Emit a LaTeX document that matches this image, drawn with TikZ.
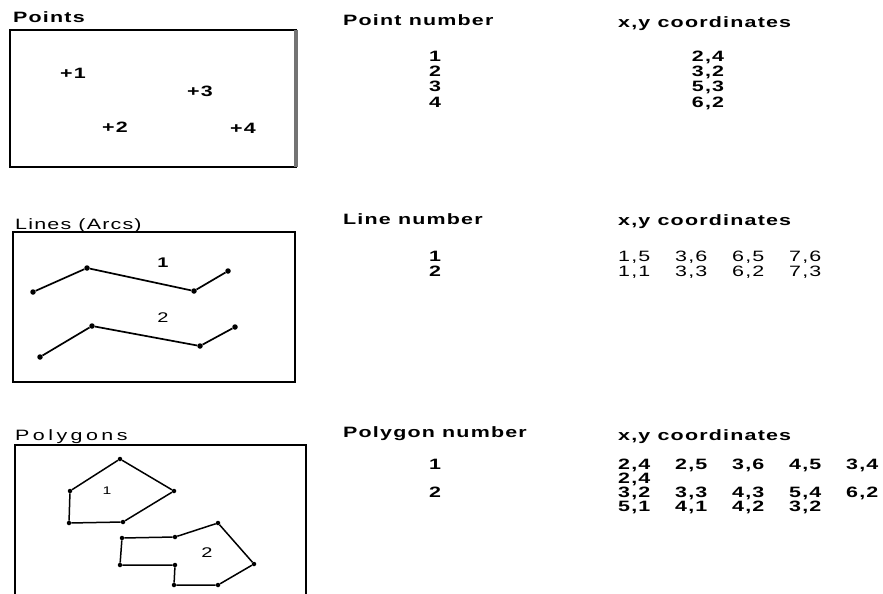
\documentclass[tikz,border=0pt]{standalone}
\usepackage{fontspec}
\setmainfont{Liberation Sans}
\newfontfamily\widef[FakeStretch=1.43,LetterSpace=8]{Liberation Sans}
\newfontfamily\widerf[FakeStretch=1.43,LetterSpace=23]{Liberation Sans}
\begin{document}
\begin{tikzpicture}[x=1pt,y=-1pt,
  lab/.style={anchor=base west, inner sep=0pt, font=\widef\fontsize{15}{15}\selectfont},
  hdr/.style={anchor=base west, inner sep=0pt, font=\widef\bfseries\fontsize{15}{15}\selectfont},
  num/.style={anchor=base, inner sep=0pt, font=\widef\bfseries\fontsize{15}{15}\selectfont},
  crd/.style={anchor=base west, inner sep=0pt, font=\widef\bfseries\fontsize{15}{15}\selectfont},
  crdl/.style={anchor=base west, inner sep=0pt, font=\widef\fontsize{15}{15}\selectfont},
  pt/.style={anchor=west, inner sep=0pt, font=\widef\bfseries\fontsize{15}{15}\selectfont},
  frame/.style={draw, line width=1.8pt},
  vtx/.style={circle, fill, inner sep=0pt, minimum size=5.5pt},
  pvx/.style={circle, fill, inner sep=0pt, minimum size=4.5pt},
  edge/.style={line width=1.7pt},
  pedge/.style={line width=1.5pt},
  tag/.style={inner sep=0pt, font=\widef\fontsize{14}{14}\selectfont}]
\useasboundingbox[fill=white] (0,0) rectangle (883,594);

% ---------- Row 1: Points ----------
\node[lab, font=\widef\bfseries\fontsize{15}{15}\selectfont] (tPoints) at (13,23) {Points};
\draw[frame] (10,30) rectangle (296,167);
\draw[line width=3.5pt, black!55] (296,30) -- (296,167);
\node[pt] (p1) at (60,73) {+1};
\node[pt] (p3) at (187,91) {+3};
\node[pt] (p2) at (102,127) {+2};
\node[pt] (p4) at (230,128) {+4};

\node[hdr] (hPt) at (343,26) {Point number};
\node[hdr] (hXY1) at (618,28) {x,y coordinates};
\node[num] (n11) at (435,62) {1};
\node[num] (n12) at (435,77) {2};
\node[num] (n13) at (435,92) {3};
\node[num] (n14) at (435,107) {4};
\node[num] (c11) at (708,62) {2,4};
\node[num] (c12) at (708,77) {3,2};
\node[num] (c13) at (708,92) {5,3};
\node[num] (c14) at (708,107) {6,2};

% ---------- Row 2: Lines ----------
\node[lab] (tLines) at (15,229) {Lines (Arcs)};
\draw[frame] (13,232) rectangle (295,382);
\node[vtx] (a1) at (33,292) {};
\node[vtx] (a2) at (87,268) {};
\node[vtx] (a3) at (194,291) {};
\node[vtx] (a4) at (228,271) {};
\draw[edge] (a1) -- (a2) -- (a3) -- (a4);
\node[tag, font=\widef\bfseries\fontsize{14}{14}\selectfont] (la) at (163,263) {1};
\node[vtx] (b1) at (40,357) {};
\node[vtx] (b2) at (92,326) {};
\node[vtx] (b3) at (200,346) {};
\node[vtx] (b4) at (235,327) {};
\draw[edge] (b1) -- (b2) -- (b3) -- (b4);
\node[tag] (lb) at (163,318) {2};

\node[hdr] (hLn) at (343,224) {Line number};
\node[hdr] (hXY2) at (618,225) {x,y coordinates};
\node[num] (n21) at (435,261) {1};
\node[num] (n22) at (435,276) {2};
\node[crdl] (d11) at (618,261) {1,5};
\node[crdl] (d12) at (675,261) {3,6};
\node[crdl] (d13) at (732,261) {6,5};
\node[crdl] (d14) at (789,261) {7,6};
\node[crdl] (d21) at (618,276) {1,1};
\node[crdl] (d22) at (675,276) {3,3};
\node[crdl] (d23) at (732,276) {6,2};
\node[crdl] (d24) at (789,276) {7,3};

% ---------- Row 3: Polygons ----------
\node[lab, font=\widerf\fontsize{15}{15}\selectfont] (tPoly) at (15,440) {Polygons};
\draw[frame] (15,600) -- (15,445) -- (306,445) -- (306,600);
\node[pvx] (q1) at (69,523) {};
\node[pvx] (q2) at (70,491) {};
\node[pvx] (q3) at (120,459) {};
\node[pvx] (q4) at (174,491) {};
\node[pvx] (q5) at (123,522) {};
\draw[pedge] (q1) -- (q2) -- (q3) -- (q4) -- (q5) -- (q1);
\node[tag, font=\widef\fontsize{11}{11}\selectfont] (lq) at (107,491) {1};
\node[pvx] (r1) at (120,565) {};
\node[pvx] (r2) at (122,538) {};
\node[pvx] (r3) at (175,537) {};
\node[pvx] (r4) at (218,523) {};
\node[pvx] (r5) at (254,564) {};
\node[pvx] (r6) at (218,585) {};
\node[pvx] (r7) at (174,585) {};
\node[pvx] (r8) at (175,565) {};
\draw[pedge] (r1) -- (r2) -- (r3) -- (r4) -- (r5) -- (r6) -- (r7) -- (r8) -- (r1);
\node[tag] (lr) at (207,553) {2};

\node[hdr] (hPg) at (343,437) {Polygon number};
\node[hdr] (hXY3) at (618,440) {x,y coordinates};
\node[num] (n31) at (435,469) {1};
\node[num] (n32) at (435,497) {2};
\node[crd] (e11) at (618,469) {2,4};
\node[crd] (e12) at (675,469) {2,5};
\node[crd] (e13) at (732,469) {3,6};
\node[crd] (e14) at (789,469) {4,5};
\node[crd] (e15) at (846,469) {3,4};
\node[crd] (e21) at (618,483) {2,4};
\node[crd] (e31) at (618,497) {3,2};
\node[crd] (e32) at (675,497) {3,3};
\node[crd] (e33) at (732,497) {4,3};
\node[crd] (e34) at (789,497) {5,4};
\node[crd] (e35) at (846,497) {6,2};
\node[crd] (e41) at (618,511) {5,1};
\node[crd] (e42) at (675,511) {4,1};
\node[crd] (e43) at (732,511) {4,2};
\node[crd] (e44) at (789,511) {3,2};
\end{tikzpicture}
\end{document}
